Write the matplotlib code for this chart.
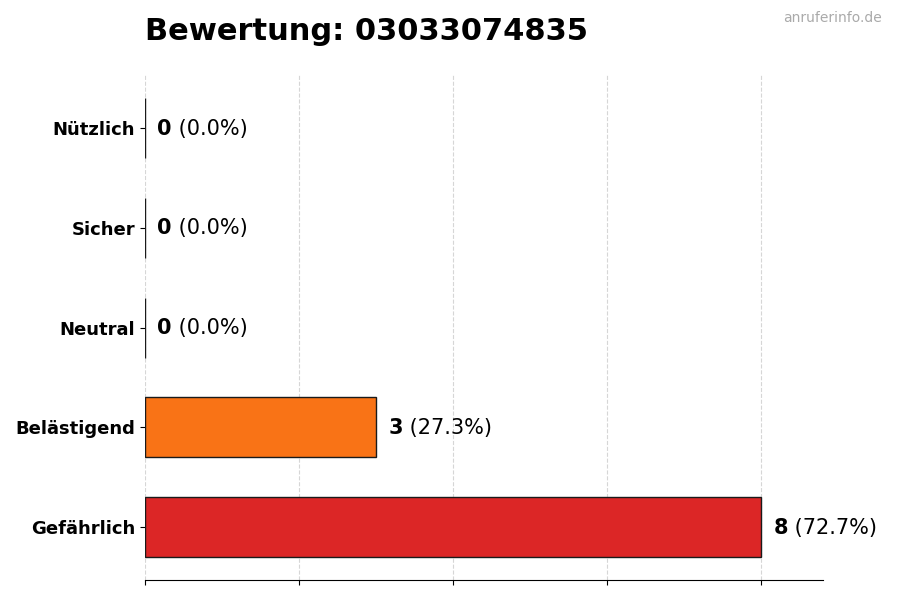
import matplotlib
matplotlib.use("Agg")
import matplotlib.pyplot as plt

# Data (bottom to top)
categories = ["Gefährlich", "Belästigend", "Neutral", "Sicher", "Nützlich"]
counts = [8, 3, 0, 0, 0]
colors = ["#dc2626", "#f97316", "#9ca3af", "#22c55e", "#16a34a"]
title = "Bewertung: 03033074835"

total = sum(counts)

fig, ax = plt.subplots(figsize=(9, 6), dpi=100)
fig.subplots_adjust(left=0.161, right=0.914, top=0.875, bottom=0.033)

y = list(range(len(categories)))
ax.barh(y, counts, height=0.6, color=colors, edgecolor="#1a1a1a", linewidth=1)

ax.set_xlim(0, max(counts) * 1.1)
ax.set_xticks([0, 2, 4, 6, 8])
ax.set_xticklabels([])
ax.set_yticks(y)
ax.set_yticklabels(categories, fontsize=13, fontweight="bold")

ax.grid(axis="x", linestyle="--", color="#cccccc", alpha=0.8)
ax.set_axisbelow(True)
for s in ["top", "right", "left"]:
    ax.spines[s].set_visible(False)

# value labels: bold count + normal percentage
for yi, c in zip(y, counts):
    pct = c / total * 100 if total else 0
    t1 = ax.annotate(str(c), xy=(c, yi), xytext=(9, -0.5), textcoords="offset points",
                     va="center", ha="left", fontsize=15, fontweight="bold")
    ax.annotate(f" ({pct:.1f}%)", xy=(1, 0), xycoords=t1, va="bottom", ha="left",
                fontsize=15)

fig.text(0.161, 0.948, title, fontsize=22, fontweight="bold", ha="left", va="center")
fig.text(0.98, 0.97, "anruferinfo.de", fontsize=10, color="#aaaaaa", ha="right", va="center")

fig.savefig("out.png", dpi=100)
